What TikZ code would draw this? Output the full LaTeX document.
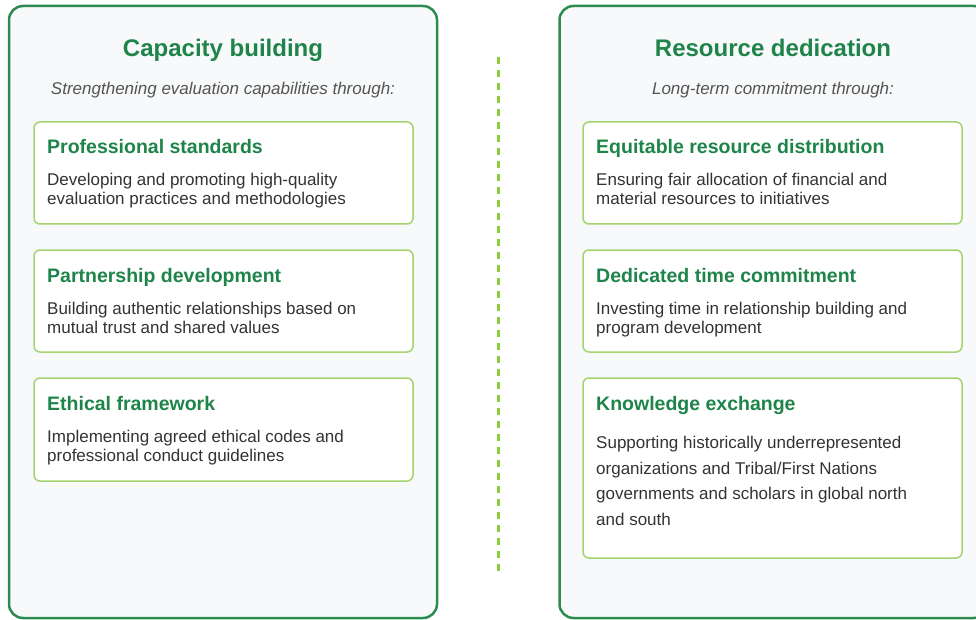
\documentclass[tikz,border=0pt]{standalone}
\usepackage{fontspec}
\setmainfont{Liberation Sans}
\definecolor{panelborder}{HTML}{2E8B4F}
\definecolor{panelfill}{HTML}{F7F9FA}
\definecolor{cardborder}{HTML}{A5D46F}
\definecolor{titlegreen}{HTML}{1E8449}
\definecolor{bodygray}{HTML}{333333}
\definecolor{subgray}{HTML}{555555}
\definecolor{divgreen}{HTML}{8CCB3C}
\begin{document}
\begin{tikzpicture}[x=1pt,y=-1pt,
  panel/.style={draw=panelborder, line width=2.5pt, fill=panelfill, rounded corners=14pt, minimum width=428pt, inner sep=0pt, outer sep=0pt},
  card/.style={draw=cardborder, line width=1.5pt, fill=white, rounded corners=6pt, minimum width=379pt, inner sep=0pt, outer sep=0pt},
  bigtitle/.style={anchor=base, inner sep=0pt, text=titlegreen, font=\fontsize{24}{29}\selectfont\bfseries},
  subtitle/.style={anchor=base, inner sep=0pt, text=subgray, font=\fontsize{17}{20}\selectfont\itshape},
  cardtitle/.style={anchor=base west, inner sep=0pt, text=titlegreen, font=\fontsize{19.5}{23}\selectfont\bfseries},
  cardbody/.style={anchor=base west, inner sep=0pt, text=bodygray, align=left, font=\fontsize{17}{19}\selectfont},
  cardbodywide/.style={anchor=base west, inner sep=0pt, text=bodygray, align=left, font=\fontsize{17}{25.6}\selectfont},
  divider/.style={draw=divgreen, line width=3pt, dash pattern=on 7pt off 6pt}
]
\useasboundingbox (0,0) rectangle (976,620);
% panels
\node[panel, minimum height=612pt] (lp) at (223,312) {};
\node[panel, minimum height=612pt] (rp) at (773.5,312) {};
% divider
\coordinate (d1) at (498,57);
\coordinate (d2) at (498,577);
\draw[divider] (d1) -- (d2);
% left header
\node[bigtitle] (lt) at (223,57) {Capacity building};
\node[subtitle] (ls) at (223,95) {Strengthening evaluation capabilities through:};
% right header
\node[bigtitle] (rt) at (773,57) {Resource dedication};
\node[subtitle] (rs) at (773,95) {Long-term commitment through:};
% left cards
\node[card, minimum height=102pt] (lc1) at (223.5,173) {};
\node[card, minimum height=102pt] (lc2) at (223.5,301) {};
\node[card, minimum height=103pt] (lc3) at (223.5,429.5) {};
\node[cardtitle] (lc1t) at (47,154) {Professional standards};
\node[cardbody] (lc1b) at (47,205) {Developing and promoting high-quality\\evaluation practices and methodologies};
\node[cardtitle] (lc2t) at (47,282) {Partnership development};
\node[cardbody] (lc2b) at (47,333) {Building authentic relationships based on\\mutual trust and shared values};
\node[cardtitle] (lc3t) at (47,410) {Ethical framework};
\node[cardbody] (lc3b) at (47,461) {Implementing agreed ethical codes and\\professional conduct guidelines};
% right cards
\node[card, minimum height=102pt] (rc1) at (772.5,173) {};
\node[card, minimum height=102pt] (rc2) at (772.5,301) {};
\node[card, minimum height=180pt] (rc3) at (772.5,468) {};
\node[cardtitle] (rc1t) at (596,154) {Equitable resource distribution};
\node[cardbody] (rc1b) at (596,205) {Ensuring fair allocation of financial and\\material resources to initiatives};
\node[cardtitle] (rc2t) at (596,282) {Dedicated time commitment};
\node[cardbody] (rc2b) at (596,333) {Investing time in relationship building and\\program development};
\node[cardtitle] (rc3t) at (596,410) {Knowledge exchange};
\node[cardbodywide] (rc3b) at (596,525.3) {Supporting historically underrepresented\\organizations and Tribal/First Nations\\governments and scholars in global north\\and south};
\end{tikzpicture}
\end{document}
